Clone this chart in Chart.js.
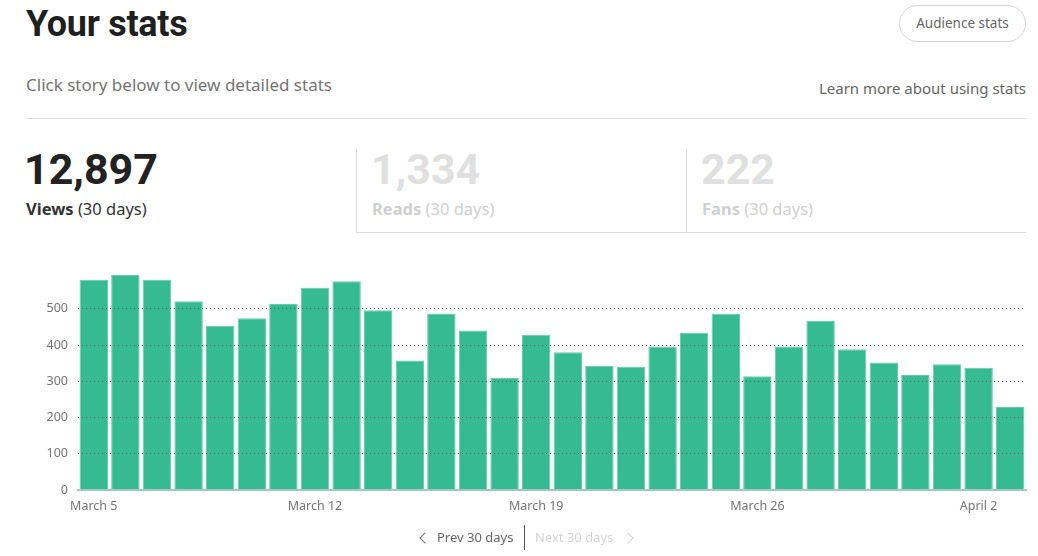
<!DOCTYPE html>
<html>
<head>
<meta charset="utf-8">
<script src="https://cdn.jsdelivr.net/npm/chart.js@4"></script>
<style>
  html, body { margin:0; padding:0; background:#fff; }
  body { width:1038px; height:556px; position:relative; overflow:hidden; font-family:"Noto Sans", sans-serif; color:#292929; }
  .abs { position:absolute; white-space:nowrap; }
  #title { left:26px; top:3px; font-family:Roboto, sans-serif; font-weight:700; font-size:36px; letter-spacing:-0.3px; color:#1f1f1f; }
  #btn { left:899px; top:5px; width:125px; height:35px; border:1px solid #d6d6d6; border-radius:19px; font-size:13.5px; color:#666; text-align:center; line-height:35px; }
  #sub { left:26px; top:73px; font-size:17px; color:#757575; }
  #learn { right:12px; top:78px; font-size:15px; color:#666; }
  #rule { left:26px; top:118px; width:1000px; height:1px; background:#dcdcdc; }
  .big { font-family:Roboto, sans-serif; font-weight:700; font-size:43px; top:144px; letter-spacing:0px; }
  .cap { top:197px; font-size:16.5px; }
  .cap b { font-weight:700; }
  #v1 { left:24px; color:#222; }
  #c1 { left:26px; color:#333; }
  #v2 { left:371px; color:#e0e0e0; }
  #c2 { left:372px; color:#d0d0d0; }
  #v3 { left:701px; color:#e0e0e0; }
  #c3 { left:702px; color:#d0d0d0; }
  #box { left:356px; top:149px; width:669px; height:83px; border-left:1px solid #dcdcdc; border-bottom:1px solid #dcdcdc; }
  #div2 { left:686px; top:149px; width:1px; height:83px; background:#dcdcdc; }
  #chartwrap { position:absolute; left:0; top:255px; width:1038px; height:275px; }
  .pg { top:528px; font-size:13px; }
  #prev { left:437px; color:#666; }
  #next { left:535px; color:#d4d4d4; }
  #sep { left:524px; top:525px; width:1px; height:25px; background:#555; }
  .chev { position:absolute; width:7px; height:7px; border-left:1.3px solid; border-bottom:1.3px solid; }
  #chl { left:421px; top:534px; transform:rotate(45deg); border-color:#777; }
  #chr { left:624px; top:534px; transform:rotate(-135deg); border-color:#d4d4d4; }
</style>
</head>
<body>
<div id="title" class="abs">Your stats</div>
<div id="btn" class="abs">Audience stats</div>
<div id="sub" class="abs">Click story below to view detailed stats</div>
<div id="learn" class="abs">Learn more about using stats</div>
<div id="rule" class="abs"></div>
<div id="box" class="abs"></div>
<div id="div2" class="abs"></div>
<div id="v1" class="abs big">12,897</div>
<div id="c1" class="abs cap"><b>Views</b> (30 days)</div>
<div id="v2" class="abs big">1,334</div>
<div id="c2" class="abs cap"><b>Reads</b> (30 days)</div>
<div id="v3" class="abs big">222</div>
<div id="c3" class="abs cap"><b>Fans</b> (30 days)</div>
<div id="chartwrap"><canvas id="c"></canvas></div>
<span class="chev" id="chl"></span>
<div id="prev" class="abs pg">Prev 30 days</div>
<div id="sep" class="abs"></div>
<div id="next" class="abs pg">Next 30 days</div>
<span class="chev" id="chr"></span>
<script>
const categories = ["March 5","March 6","March 7","March 8","March 9","March 10","March 11","March 12","March 13","March 14","March 15","March 16","March 17","March 18","March 19","March 20","March 21","March 22","March 23","March 24","March 25","March 26","March 27","March 28","March 29","March 30","March 31","April 1","April 2","April 3"];
const views = [580,593,580,521,453,474,513,558,576,496,357,487,440,309,428,380,343,340,395,434,486,314,396,467,388,352,317,347,337,229];
const yTicks = [0,100,200,300,400,500];
const labelEvery = 7;

new Chart(document.getElementById('c'), {
  type: 'bar',
  data: {
    labels: categories,
    datasets: [{
      label: 'Views',
      data: views,
      backgroundColor: '#35ba91',
      borderColor: '#62cfa9',
      borderWidth: 1,
      borderSkipped: 'bottom',
      barPercentage: 0.9,
      categoryPercentage: 1.0
    }]
  },
  options: {
    responsive: true,
    maintainAspectRatio: false,
    animation: false,
    layout: { padding: { left: 0, right: 12, top: 15, bottom: 0 } },
    plugins: { legend: { display: false }, tooltip: { enabled: false } },
    scales: {
      x: {
        grid: { display: false, drawTicks: true, tickLength: 8 },
        border: { display: true, color: '#9fcbbc', width: 2, z: 1 },
        ticks: {
          autoSkip: false, maxRotation: 0, padding: 1,
          color: '#757575', font: { family: 'Noto Sans', size: 12.5 },
          callback: function(v, i) { return i % labelEvery === 0 ? categories[i] : ''; }
        },
        afterFit: function(s) { s.height = 40; }
      },
      y: {
        min: 0, max: 600,
        afterBuildTicks: function(s) { s.ticks = yTicks.concat([600]).map(v => ({ value: v })); },
        grid: {
          z: 1,
          drawTicks: false,
          color: function(ctx) { const v = ctx.tick && ctx.tick.value; return (v === 0 || v === 600) ? 'rgba(0,0,0,0)' : '#5a5a5a'; },
          lineWidth: 1
        },
        border: { display: false, dash: [1, 3] },
        ticks: {
          padding: 10,
          color: '#757575', font: { family: 'Noto Sans', size: 12.5 },
          callback: function(v) { return yTicks.includes(v) ? String(v) : ''; }
        },
        afterFit: function(s) { s.width = 78; }
      }
    }
  }
});
</script>
</body>
</html>
